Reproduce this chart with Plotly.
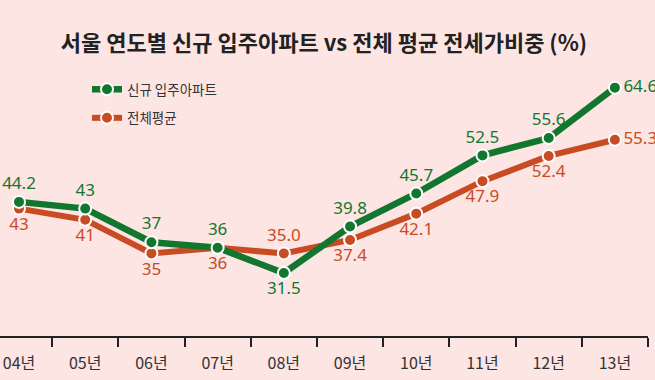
import plotly.graph_objects as go

years = ["04년", "05년", "06년", "07년", "08년", "09년", "10년", "11년", "12년", "13년"]
new_apt = [44.2, 43, 37, 36, 31.5, 39.8, 45.7, 52.5, 55.6, 64.6]
new_apt_text = ["44.2", "43", "37", "36", "31.5", "39.8", "45.7", "52.5", "55.6", "64.6"]
avg_all = [43, 41, 35, 36, 35.0, 37.4, 42.1, 47.9, 52.4, 55.3]
avg_all_text = ["43", "41", "35", "36", "35.0", "37.4", "42.1", "47.9", "52.4", "55.3"]

GREEN = "#12772e"
ORANGE = "#c94b24"
BG = "#fde5e3"

green_pos = ["top center"] * 4 + ["bottom center"] + ["top center"] * 4 + ["middle right"]
orange_pos = ["bottom center"] * 4 + ["top center"] + ["bottom center"] * 4 + ["middle right"]

fig = go.Figure()
fig.add_trace(go.Scatter(
    x=years, y=avg_all, name="전체평균", mode="lines+markers+text",
    text=avg_all_text, textposition=orange_pos,
    textfont=dict(family="Noto Sans", size=17, color=ORANGE),
    line=dict(color=ORANGE, width=6),
    marker=dict(size=12, color=ORANGE, line=dict(color="white", width=2)),
    cliponaxis=False, legendgroup="b", legendrank=2,
))
fig.add_trace(go.Scatter(
    x=years, y=new_apt, name="신규 입주아파트", mode="lines+markers+text",
    text=new_apt_text, textposition=green_pos,
    textfont=dict(family="Noto Sans", size=17, color=GREEN),
    line=dict(color=GREEN, width=6.5),
    marker=dict(size=12, color=GREEN, line=dict(color="white", width=2)),
    cliponaxis=False, legendgroup="a", legendrank=1,
))

fig.update_layout(
    width=655, height=380,
    paper_bgcolor=BG, plot_bgcolor=BG,
    margin=dict(l=0, r=7, t=0, b=44),
    title=dict(
        text="서울 연도별 신규 입주아파트 vs 전체 평균 전세가비중 (%)",
        x=0.5, xanchor="center", xref="paper",
        y=1 - 43 / 380, yanchor="middle", yref="container",
        font=dict(family="Noto Sans CJK KR", size=22, color="#222222", weight="bold"),
    ),
    showlegend=True,
    legend=dict(
        x=87 / 648, xanchor="left", y=1 - 74 / 336, yanchor="top",
        bgcolor="rgba(0,0,0,0)", traceorder="grouped", tracegroupgap=8,
        font=dict(family="Noto Sans CJK KR", size=13.5, color="#333333"),
    ),
    xaxis=dict(
        type="category", range=[-0.287, 9.5],
        showline=True, linecolor="#222222", linewidth=2,
        ticks="outside", tickson="boundaries", ticklen=9, tickwidth=2, tickcolor="#222222",
        ticklabelstandoff=12,
        showgrid=False, zeroline=False,
        tickfont=dict(family="Noto Sans CJK KR", size=16, color="#333333"),
        fixedrange=True,
    ),
    yaxis=dict(range=[20.25, 80.25], visible=False, fixedrange=True),
)

fig.write_html(
    "out.html",
    config={"displayModeBar": False},
    post_script="document.body.style.margin='0';document.body.style.background='" + BG + "';",
)
